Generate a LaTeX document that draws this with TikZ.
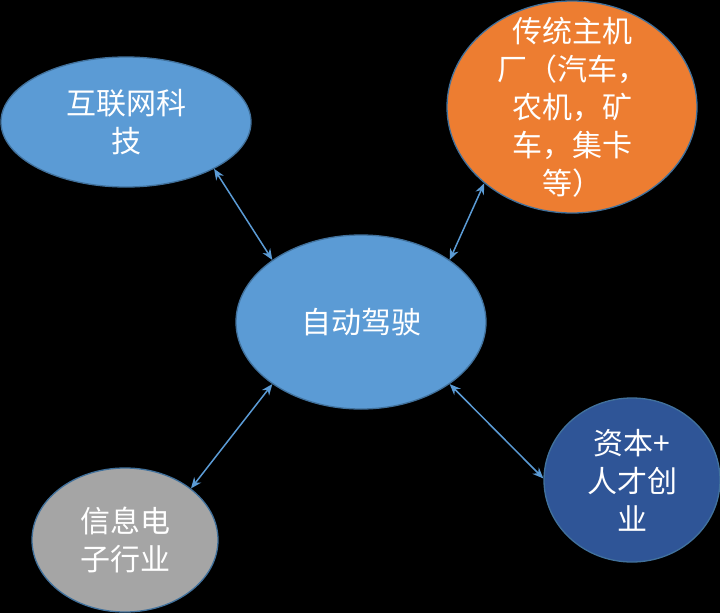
\documentclass[tikz,border=0pt]{standalone}
\usepackage{fontspec}
\newfontfamily\cjk{Noto Sans CJK SC}
\usetikzlibrary{shapes.geometric,arrows.meta}
\definecolor{fblue}{HTML}{5B9BD5}
\definecolor{edgeblue}{HTML}{41719C}
\definecolor{forange}{HTML}{ED7D31}
\definecolor{fgray}{HTML}{A5A5A5}
\definecolor{fdark}{HTML}{2F5597}
\tikzset{
  bubble/.style={ellipse, draw=edgeblue, line width=1.3pt, inner sep=0pt},
  btext/.style={text=white, align=center, font=\cjk\fontsize{30}{38}\selectfont},
  link/.style={draw=fblue, line width=1.5pt,
    {Stealth[length=11pt,width=9pt]}-{Stealth[length=11pt,width=9pt]}}
}
\begin{document}
\begin{tikzpicture}[x=1pt,y=-1pt]
\fill[black] (0,0) rectangle (720,613);
\useasboundingbox (0,0) rectangle (720,613);
\node[bubble, fill=fblue, minimum width=250pt, minimum height=174pt,
  label={[btext]center:自动驾驶}] (c) at (361,322) {};
\node[bubble, fill=fblue, minimum width=250pt, minimum height=130pt,
  label={[btext]center:{互联网科\\技}}] (tl) at (126,122) {};
\node[bubble, fill=forange, minimum width=250pt, minimum height=212pt,
  label={[btext]center:{传统主机\\厂（汽车，\\农机，矿\\车，集卡\\等）}}] (tr) at (572,107) {};
\node[bubble, fill=fgray, minimum width=186pt, minimum height=144pt,
  label={[btext]center:{信息电\\子行业}}] (bl) at (125,540) {};
\node[bubble, fill=fdark, minimum width=176pt, minimum height=164pt,
  label={[btext]center:{资本+\\人才创\\业}}] (br) at (632,480) {};
\draw[link] (tl.-28) -- (c.145);
\draw[link] (tr.221) -- (c.35);
\draw[link] (bl.38) -- (c.215);
\draw[link] (br.179) -- (c.-35);
\end{tikzpicture}
\end{document}
